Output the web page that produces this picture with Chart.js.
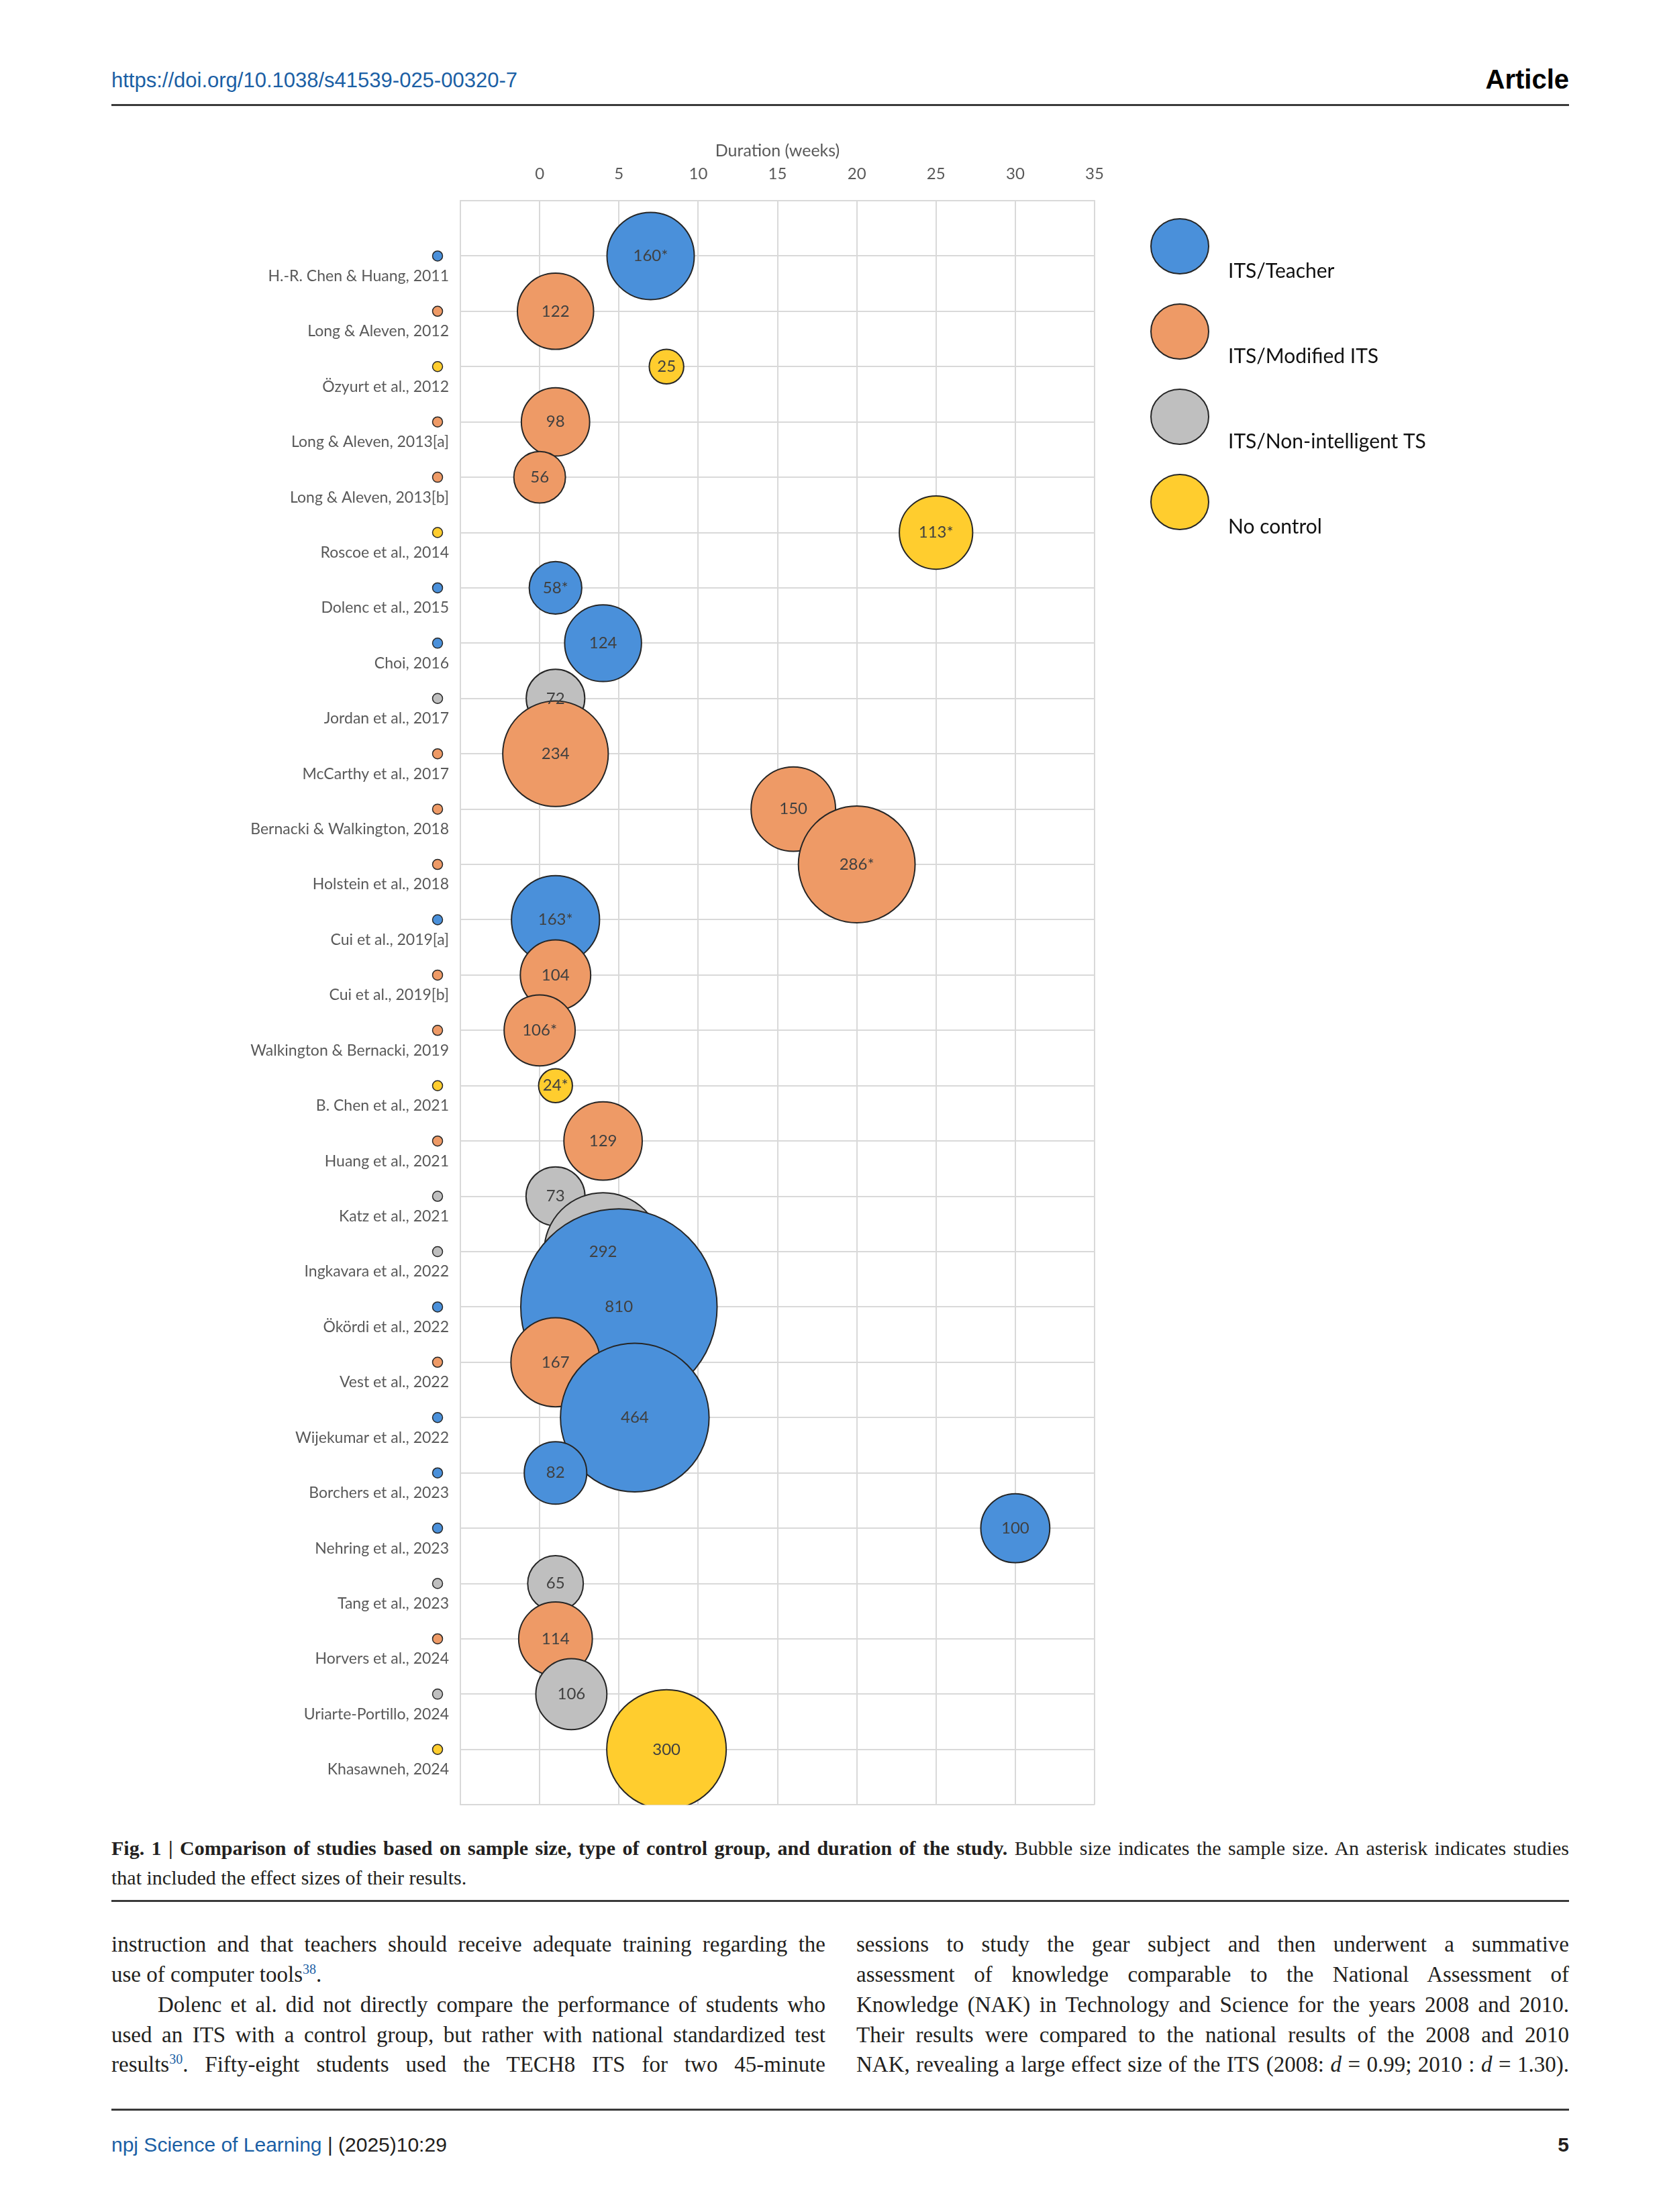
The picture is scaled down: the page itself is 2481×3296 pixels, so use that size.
<!DOCTYPE html>
<html>
<head>
<meta charset="utf-8">
<script src="https://cdn.jsdelivr.net/npm/chart.js@4.4.1/dist/chart.umd.min.js"></script>
<style>
body{margin:0;width:2481px;height:3296px;background:#fff;position:relative;overflow:hidden;color:#231f20}
.abs{position:absolute}
.sans{font-family:"Liberation Sans",Arial,sans-serif}
.rule{position:absolute;left:166px;width:2172px;height:3px;background:#3a3a3a}
.ln{position:absolute;font-family:"Liberation Serif",serif;font-size:33px;line-height:44px;width:1064px}
.j{text-align:justify;text-align-last:justify}
.ln sup{font-size:20px;color:#1b5fa5;line-height:0}
.cap{position:absolute;left:166px;width:2172px;font-family:"Liberation Serif",serif;font-size:30px;line-height:44px}
#chartBox{position:absolute;left:360px;top:190px;width:1880px;height:2530px}
</style>
</head>
<body>

<div class="abs sans" style="left:166px;top:104px;font-size:31px;line-height:31px;color:#1b5fa5">https://doi.org/10.1038/s41539-025-00320-7</div>
<div class="abs sans" style="right:143px;top:98px;font-size:40px;line-height:40px;font-weight:bold;color:#000">Article</div>
<div class="rule" style="top:155px"></div>

<div id="chartBox"><canvas id="bubbleChart" width="1880" height="2530"></canvas></div>

<div class="cap j" style="top:2732px"><b>Fig. 1 | Comparison of studies based on sample size, type of control group, and duration of the study.</b> Bubble size indicates the sample size. An asterisk indicates studies</div>
<div class="cap" style="top:2776px">that included the effect sizes of their results.</div>
<div class="rule" style="top:2831px"></div>

<div class="ln j" style="left:166px;top:2875px">instruction and that teachers should receive adequate training regarding the</div>
<div class="ln" style="left:166px;top:2920px">use of computer tools<sup>38</sup>.</div>
<div class="ln j" style="left:166px;top:2965px;text-indent:69px">Dolenc et al. did not directly compare the performance of students who</div>
<div class="ln j" style="left:166px;top:3010px">used an ITS with a control group, but rather with national standardized test</div>
<div class="ln j" style="left:166px;top:3054px">results<sup>30</sup>. Fifty-eight students used the TECH8 ITS for two 45-minute</div>

<div class="ln j" style="left:1276px;top:2875px;width:1062px">sessions to study the gear subject and then underwent a summative</div>
<div class="ln j" style="left:1276px;top:2920px;width:1062px">assessment of knowledge comparable to the National Assessment of</div>
<div class="ln j" style="left:1276px;top:2965px;width:1062px">Knowledge (NAK) in Technology and Science for the years 2008 and 2010.</div>
<div class="ln j" style="left:1276px;top:3010px;width:1062px">Their results were compared to the national results of the 2008 and 2010</div>
<div class="ln j" style="left:1276px;top:3054px;width:1062px">NAK, revealing a large effect size of the ITS (2008: <i>d</i> = 0.99; 2010 : <i>d</i> = 1.30).</div>

<div class="rule" style="top:3142px"></div>
<div class="abs sans" style="left:166px;top:3181px;font-size:30px;line-height:30px"><span style="color:#1b5fa5">npj Science of Learning</span> | (2025)10:29</div>
<div class="abs sans" style="right:143px;top:3181px;font-size:30px;line-height:30px;font-weight:bold">5</div>

<script>

/* ============================= */
/* DATA */
/* ============================= */

const studies = [
"H.-R. Chen & Huang, 2011",
"Long & Aleven, 2012",
"Özyurt et al., 2012",
"Long & Aleven, 2013[a]",
"Long & Aleven, 2013[b]",
"Roscoe et al., 2014",
"Dolenc et al., 2015",
"Choi, 2016",
"Jordan et al., 2017",
"McCarthy et al., 2017",
"Bernacki & Walkington, 2018",
"Holstein et al., 2018",
"Cui et al., 2019[a]",
"Cui et al., 2019[b]",
"Walkington & Bernacki, 2019",
"B. Chen et al., 2021",
"Huang et al., 2021",
"Katz et al., 2021",
"Ingkavara et al., 2022",
"Ökördi et al., 2022",
"Vest et al., 2022",
"Wijekumar et al., 2022",
"Borchers et al., 2023",
"Nehring et al., 2023",
"Tang et al., 2023",
"Horvers et al., 2024",
"Uriarte-Portillo, 2024",
"Khasawneh, 2024"
]

// duration in weeks
const durations = [7,1,8,1,0,25,1,4,1,1,16,20,1,1,0,1,4,1,4,5,1,6,1,30,1,1,2,8]

// sample size (bubble size)
const sampleSizes = [160,122,25,98,56,113,58,124,72,234,150,286,163,104,106,24,129,73,292,810,167,464,82,100,65,114,106,300]

// 0 ITS/Teacher, 1 ITS/Modified ITS, 2 ITS/Non-intelligent TS, 3 No control
const controlGroup = [0,1,3,1,1,3,0,0,2,1,1,1,0,1,1,3,1,2,2,0,1,0,0,0,2,1,2,3]

// asterisk = study reported effect sizes
const hasEffectSize = [true,false,false,false,false,true,true,false,false,false,false,true,true,false,true,true,false,false,false,false,false,false,false,false,false,false,false,false]

const groupNames = ["ITS/Teacher","ITS/Modified ITS","ITS/Non-intelligent TS","No control"]

const weekTicks = [-5,0,5,10,15,20,25,30,35]


/* ============================= */
/* STYLE */
/* ============================= */

const groupColors = ["#4A90DA","#EE9A66","#BFBFBF","#FFCD2E"]
const BUBBLE_SCALE = 5.14   // px of radius per sqrt(sample)
const GRID = "#D9D9D9"
const AXIS_TEXT = "#595959"

Chart.defaults.font.family = "Lato"

const points = durations.map((d,i)=>({x:d, y:i+1, r:BUBBLE_SCALE*Math.sqrt(sampleSizes[i])}))
const bubbleText = sampleSizes.map((n,i)=> hasEffectSize[i] ? n+"*" : String(n))


/* ============================= */
/* PLUGINS */
/* ============================= */

// number inside each bubble
const bubbleLabels = {
id:"bubbleLabels",
afterDatasetsDraw(chart){
const ctx = chart.ctx
const meta = chart.getDatasetMeta(0)
ctx.save()
ctx.font = "24px Lato"
ctx.fillStyle = "#404040"
ctx.textAlign = "center"
ctx.textBaseline = "middle"
meta.data.forEach((el,i)=>{
ctx.fillText(bubbleText[i], el.x, el.y)
})
ctx.restore()
}
}

// small coloured dot beside each study name
const rowDots = {
id:"rowDots",
afterDraw(chart){
const ctx = chart.ctx
const y = chart.scales.y
const x = chart.chartArea.left - 34
ctx.save()
studies.forEach((s,i)=>{
ctx.beginPath()
ctx.arc(x, y.getPixelForValue(i+1), 7.5, 0, Math.PI*2)
ctx.fillStyle = groupColors[controlGroup[i]]
ctx.fill()
ctx.lineWidth = 1.5
ctx.strokeStyle = "#262626"
ctx.stroke()
})
ctx.restore()
}
}

// legend on the right
const sideLegend = {
id:"sideLegend",
afterDraw(chart){
const ctx = chart.ctx
const x0 = chart.chartArea.right + 127
const y0 = chart.chartArea.top + 68
ctx.save()
groupNames.forEach((name,i)=>{
const cy = y0 + i*127
ctx.beginPath()
ctx.ellipse(x0, cy, 43, 41, 0, 0, Math.PI*2)
ctx.fillStyle = groupColors[i]
ctx.fill()
ctx.lineWidth = 2
ctx.strokeStyle = "#262626"
ctx.stroke()
ctx.fillStyle = "#111"
ctx.font = "30px Lato"
ctx.textAlign = "left"
ctx.textBaseline = "middle"
ctx.fillText(name, x0 + 72, cy + 37)
})
ctx.restore()
}
}


/* ============================= */
/* BUBBLE CHART */
/* ============================= */

const bubbleChart = new Chart(
document.getElementById("bubbleChart"),
{
type:"bubble",

data:{
datasets:[
{
data:points,
backgroundColor:controlGroup.map(g=>groupColors[g]),
borderColor:"#262626",
borderWidth:2,
clip:0
}
]
},

options:{
responsive:false,
animation:false,
events:[],
layout:{autoPadding:false, padding:{top:0,left:0,right:609,bottom:22}},

plugins:{
legend:{display:false},
tooltip:{enabled:false}
},

scales:{
x:{
type:"linear",
position:"top",
min:-5,
max:35,
afterBuildTicks:s=>{ s.ticks = weekTicks.map(v=>({value:v})) },
afterFit:s=>{ s.height = 109 },
ticks:{
callback:v=> v<0 ? "" : v,
padding:25,
color:AXIS_TEXT,
font:{size:24},
autoSkip:false
},
grid:{color:GRID, lineWidth:2, drawTicks:false},
border:{color:GRID, width:2},
title:{
display:true,
text:"Duration (weeks)",
color:AXIS_TEXT,
font:{size:25},
padding:{top:20,bottom:0}
}
},

y:{
type:"linear",
min:0,
max:29,
reverse:true,
afterBuildTicks:s=>{
const t=[]
for(let v=0; v<=studies.length+1; v++) t.push({value:v})
s.ticks=t
},
afterFit:s=>{ s.width = 326 },
ticks:{
callback:v=> studies[v-1] || "",
labelOffset:30,
padding:17,
color:AXIS_TEXT,
font:{size:23},
autoSkip:false
},
grid:{color:GRID, lineWidth:2, drawTicks:false},
border:{color:GRID, width:2}
}
}
},

plugins:[bubbleLabels, rowDots, sideLegend]
});

</script>
</body>
</html>
